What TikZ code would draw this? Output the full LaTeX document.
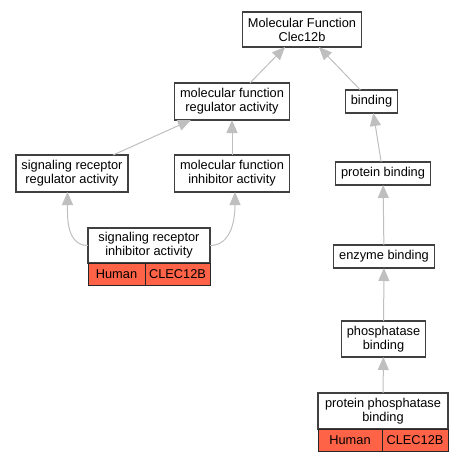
\documentclass[tikz,border=0pt]{standalone}
\usepackage{fontspec}
\setmainfont{Liberation Sans}
\usetikzlibrary{shapes,arrows.meta}
\definecolor{tomato}{RGB}{255,99,71}

\begin{document}
\begin{tikzpicture}[x=1pt,y=-1pt,
  term/.style={draw=black!75,line width=1.1pt,fill=white,align=center,inner xsep=5.5pt,inner ysep=2pt,outer sep=0pt,font=\fontsize{12.8}{14}\selectfont},
  cell/.style={draw=black!85,line width=1pt,fill=tomato,inner sep=0pt,outer sep=0pt,minimum height=22pt,anchor=north west,font=\fontsize{12.8}{14}\selectfont},
  isa/.style={draw=black!25,line width=1pt,-{Triangle[width=11pt,length=13pt,fill=black!25]}}]
\useasboundingbox (0,0) rectangle (463,461);
\node[term,minimum height=35pt] (mf) at (302,29.5) {Molecular Function\\Clec12b};
\node[term,minimum height=37pt] (mfra) at (232,101.5) {molecular function\\regulator activity};
\node[term,minimum height=23pt] (bind) at (371.5,101.5) {binding};
\node[term,minimum height=37pt] (srra) at (72,173.5) {signaling receptor\\regulator activity};
\node[term,minimum height=37pt] (mfia) at (232,173.5) {molecular function\\inhibitor activity};
\node[term,minimum height=23pt] (pbind) at (383,173.5) {protein binding};
\node[term,minimum height=35pt,minimum width=122pt] (sria) at (149,245.5) {signaling receptor\\inhibitor activity};
\node[cell,minimum width=57pt] (sriah) at (sria.south west) {Human};
\node[cell,minimum width=65pt] (sriag) at (sriah.north east) {CLEC12B};
\node[term,minimum height=23pt] (ebind) at (384,256.5) {enzyme binding};
\node[term,minimum height=36pt] (phbind) at (383.5,339) {phosphatase\\binding};
\node[term,minimum height=36pt,minimum width=130pt] (ppbind) at (383,411) {protein phosphatase\\binding};
\node[cell,minimum width=64pt] (ppbindh) at (ppbind.south west) {Human};
\node[cell,minimum width=66pt] (ppbindg) at (ppbindh.north east) {CLEC12B};
\draw (mfra) edge[isa] (mf)
(bind) edge[isa] (mf)
(srra) edge[isa] (mfra)
(mfia) edge[isa] (mfra)
(pbind) edge[isa] (bind)
(ebind) edge[isa] (pbind)
(phbind) edge[isa] (ebind)
(ppbind) edge[isa] (phbind)
(sria.west) edge[isa,out=180,in=-90] ([xshift=-4.5pt]srra.south)
(sria.east) edge[isa,out=0,in=-90] ([xshift=3pt]mfia.south);
\end{tikzpicture}
\end{document}
